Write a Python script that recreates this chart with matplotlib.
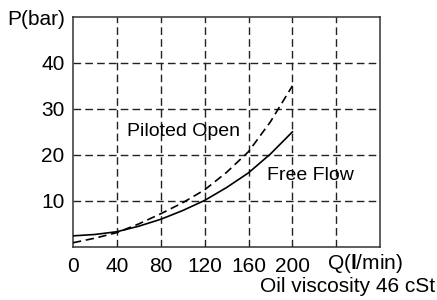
import matplotlib
matplotlib.use("Agg")
import matplotlib.pyplot as plt

plt.rcParams['font.family'] = ['Liberation Sans', 'DejaVu Sans']
plt.rcParams['mathtext.fontset'] = 'custom'
plt.rcParams['mathtext.rm'] = 'Liberation Sans'
plt.rcParams['mathtext.bf'] = 'Liberation Sans:bold'

# flow Q (l/min) and pressure drop P (bar)
q = [0, 20, 40, 60, 80, 100, 120, 140, 160, 180, 200]
p_free = [2.4, 2.7, 3.3, 4.5, 6.0, 7.9, 10.1, 12.9, 16.1, 20.2, 25.0]
p_piloted = [0.9, 1.9, 3.1, 5.0, 7.2, 9.6, 12.4, 16.2, 20.7, 27.2, 35.0]

x_ticks = [0, 40, 80, 120, 160, 200]
x_grid = [40, 80, 120, 160, 200, 240]
y_ticks = [10, 20, 30, 40]

fig = plt.figure(figsize=(4.37, 3.0), dpi=100)
ax = fig.add_axes([0.167, 0.177, 0.703, 0.767])

for g in x_grid:
    ax.axvline(g, color='#222222', lw=1.0, ls=(0, (5.5, 3)), zorder=1)
for g in y_ticks:
    ax.axhline(g, color='#222222', lw=1.0, ls=(0, (5.5, 3)), zorder=1)

ax.plot(q, p_free, color='black', lw=1.2, zorder=3)
ax.plot(q, p_piloted, color='black', lw=1.2, ls=(0, (5, 2.8)), zorder=3)

ax.set_xlim(0, 280)
ax.set_ylim(0, 50)
ax.set_xticks(x_ticks)
ax.set_yticks(y_ticks)
ax.tick_params(axis='x', length=0, labelsize=15, pad=7, colors='black')
ax.tick_params(axis='y', length=0, labelsize=15, pad=6, colors='black')
for s in ax.spines.values():
    s.set_color('#333333')
    s.set_linewidth(1.1)

ax.text(-0.026, 0.987, 'P(bar)', transform=ax.transAxes, ha='right',
        va='center', fontsize=15)
ax.text(0.951, -0.074, r'Q($\mathbf{l}$/min)', transform=ax.transAxes,
        ha='center', va='center', fontsize=15)
ax.text(1.18, -0.172, 'Oil viscosity 46 cSt', transform=ax.transAxes,
        ha='right', va='center', fontsize=15)
ax.text(49, 25, 'Piloted Open', ha='left', va='center', fontsize=14)
ax.text(177, 15.6, 'Free Flow', ha='left', va='center', fontsize=14)

fig.savefig('out.png', dpi=100)
